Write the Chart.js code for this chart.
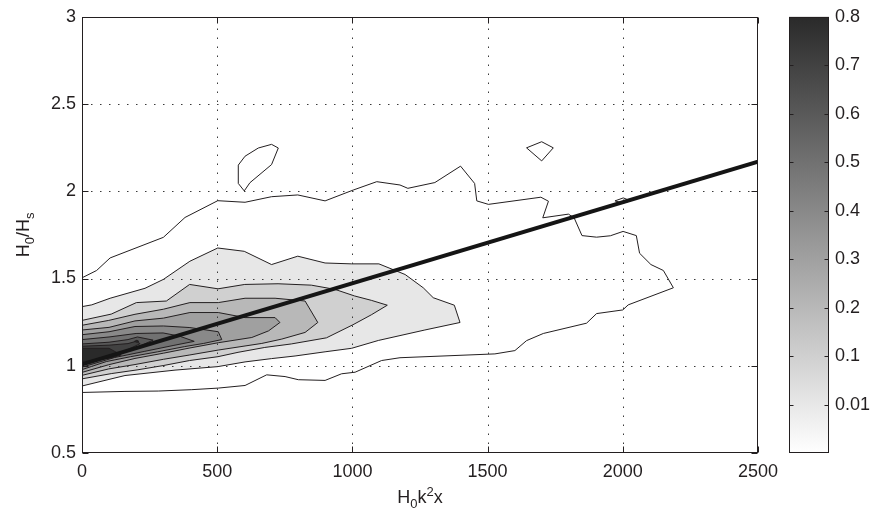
<!DOCTYPE html>
<html>
<head>
<meta charset="utf-8">
<script src="https://cdn.jsdelivr.net/npm/chart.js@4.4.1/dist/chart.umd.min.js"></script>
<style>
  html, body { margin: 0; padding: 0; background: #fff; }
  #wrap { position: relative; width: 873px; height: 520px; }
  #main { position: absolute; left: 0; top: 0; }
  #cbar { position: absolute; left: 770px; top: 0; }
</style>
</head>
<body>
<div id="wrap">
  <canvas id="main" width="873" height="520"></canvas>
  <canvas id="cbar" width="103" height="520"></canvas>
</div>
<script>
'use strict';

// density levels, lowest first (the lowest one has no label on the colour bar)
var levelLabels = ['', '0.01', '0.1', '0.2', '0.3', '0.4', '0.5', '0.6', '0.7', '0.8'];

var xTicks = [0, 500, 1000, 1500, 2000, 2500];
var yTicks = [0.5, 1, 1.5, 2, 2.5, 3];

// contour outlines as [H0k^2x, H0/Hs] pairs
var outerMain = [[0,1.504],[54,1.546],[104,1.618],[301,1.736],[381,1.850],[502,1.946],[603,1.937],[701,1.969],
  [798,1.979],[899,1.945],[1003,2.007],[1090,2.055],[1176,2.036],[1205,2.017],[1305,2.050],[1400,2.144],
  [1452,2.045],[1460,1.945],[1503,1.925],[1697,1.966],[1725,1.943],[1704,1.848],[1799,1.869],[1820,1.848],
  [1849,1.746],[1903,1.737],[1954,1.745],[2001,1.770],[2050,1.746],[2062,1.645],[2104,1.580],[2150,1.546],
  [2187,1.447],[2020,1.349],[2000,1.320],[1903,1.299],[1866,1.244],[1706,1.185],[1644,1.144],[1601,1.087],
  [1527,1.068],[1176,1.046],[1108,1.030],[1010,0.963],[960,0.954],[899,0.916],[800,0.920],[751,0.938],
  [683,0.948],[603,0.887],[504,0.872],[406,0.863],[282,0.855],[159,0.853],[0,0.847]];
var outerIslandA = [[600,2.002],[578,2.045],[578,2.150],[603,2.201],[652,2.248],[701,2.269],[726,2.248],[701,2.153],[621,2.049]];
var outerIslandB = [[1644,2.249],[1700,2.284],[1743,2.249],[1700,2.174]];
var outerIslandC = [[1971,1.945],[2002,1.962],[2029,1.945],[2000,1.932]];

var lvl001 = [[0,1.339],[36,1.349],[104,1.387],[233,1.444],[301,1.495],[399,1.599],[502,1.675],[600,1.656],
  [701,1.580],[798,1.628],[899,1.589],[997,1.584],[1098,1.584],[1195,1.523],[1262,1.447],[1299,1.390],
  [1377,1.347],[1398,1.248],[1268,1.205],[1096,1.145],[997,1.100],[899,1.080],[788,1.056],[701,1.041],
  [603,1.022],[502,0.995],[344,0.975],[159,0.944],[0,0.884]];
var lvl01 = [[0,1.260],[108,1.296],[201,1.362],[312,1.371],[398,1.466],[503,1.441],[602,1.466],[725,1.470],
  [848,1.462],[935,1.438],[1008,1.400],[1070,1.375],[1129,1.347],[1070,1.292],[1002,1.235],[904,1.160],
  [774,1.125],[676,1.105],[577,1.077],[503,1.052],[398,1.030],[300,1.001],[207,0.977],[108,0.955],[0,0.925]];
var lvl02 = [[0,1.232],[99,1.260],[196,1.295],[301,1.324],[399,1.362],[504,1.362],[603,1.387],[714,1.387],
  [825,1.371],[872,1.248],[825,1.191],[739,1.153],[665,1.128],[504,1.090],[399,1.062],[301,1.037],
  [196,1.007],[99,0.982],[0,0.945]];
var lvl03 = [[0,1.205],[100,1.220],[196,1.257],[301,1.273],[399,1.305],[504,1.305],[603,1.276],[714,1.276],
  [732,1.248],[690,1.200],[628,1.162],[504,1.132],[399,1.102],[301,1.072],[196,1.042],[99,1.006],[0,0.962]];
var lvl04 = [[0,1.178],[100,1.195],[196,1.225],[301,1.228],[399,1.219],[504,1.195],[517,1.150],[450,1.128],
  [380,1.110],[280,1.080],[180,1.052],[90,1.024],[0,0.978]];
var lvl05 = [[0,1.150],[100,1.165],[200,1.185],[300,1.188],[360,1.170],[415,1.140],[340,1.117],[230,1.082],
  [120,1.047],[0,0.992]];
var lvl06 = [[0,1.125],[100,1.135],[170,1.150],[205,1.165],[263,1.147],[220,1.117],[160,1.082],[80,1.047],[0,1.004]];
var lvl07 = [[0,1.112],[100,1.118],[170,1.127],[200,1.140],[215,1.127],[175,1.097],[125,1.062],[60,1.037],[0,1.014]];
var lvl08 = [[0,1.100],[100,1.100],[145,1.062],[110,1.045],[50,1.032],[0,1.024]];
var lvl08Dot = [[194,1.140],[203,1.146],[210,1.140],[201,1.135]];

// least-squares line
var fitX = [0, 2500];
var fitY = [1.008, 2.170];

var contours = [
  { level: 0, pts: outerMain }, { level: 0, pts: outerIslandA },
  { level: 0, pts: outerIslandB }, { level: 0, pts: outerIslandC },
  { level: 1, pts: lvl001 }, { level: 2, pts: lvl01 }, { level: 3, pts: lvl02 },
  { level: 4, pts: lvl03 }, { level: 5, pts: lvl04 }, { level: 6, pts: lvl05 },
  { level: 7, pts: lvl06 }, { level: 8, pts: lvl07 }, { level: 9, pts: lvl08 },
  { level: 9, pts: lvl08Dot }
];

var ink = '#231f20';
var fontFamily = '"Liberation Sans", Arial, Helvetica, sans-serif';

function levelGrey(k) {
  var g = Math.round(255 - k * (255 - 42) / 9);
  return 'rgb(' + g + ',' + g + ',' + g + ')';
}

var datasets = contours.map(function (c) {
  var pts = c.pts.concat([c.pts[0]]);
  return {
    data: pts.map(function (p) { return { x: p[0], y: p[1] }; }),
    borderColor: ink,
    borderWidth: 1,
    backgroundColor: levelGrey(c.level),
    fill: 'shape',
    pointRadius: 0,
    tension: 0,
    order: 20 - c.level
  };
});
datasets.push({
  data: fitX.map(function (x, i) { return { x: x, y: fitY[i] }; }),
  borderColor: '#151515',
  borderWidth: 4,
  fill: false,
  pointRadius: 0,
  tension: 0,
  order: 0
});
var fitIndex = datasets.length - 1;

// text with sub/superscripts, centred on (0,0) of the current transform
function drawParts(ctx, parts) {
  var total = 0;
  parts.forEach(function (p) {
    ctx.font = p.size + 'px ' + fontFamily;
    p.w = ctx.measureText(p.t).width;
    total += p.w;
  });
  var x = -total / 2;
  ctx.fillStyle = ink;
  ctx.textAlign = 'left';
  ctx.textBaseline = 'alphabetic';
  parts.forEach(function (p) {
    ctx.font = p.size + 'px ' + fontFamily;
    ctx.fillText(p.t, x, p.dy);
    x += p.w;
  });
}

function drawGrid(chart) {
  var ctx = chart.ctx, a = chart.chartArea, xs = chart.scales.x, ys = chart.scales.y;
  ctx.save();
  ctx.strokeStyle = '#3a3a3a';
  ctx.lineWidth = 1;
  ctx.setLineDash([1.5, 7.5]);
  xTicks.forEach(function (v) {
    if (v <= xs.min || v >= xs.max) return;
    var px = Math.round(xs.getPixelForValue(v)) + 0.5;
    ctx.beginPath(); ctx.moveTo(px, a.bottom); ctx.lineTo(px, a.top); ctx.stroke();
  });
  yTicks.forEach(function (v) {
    if (v <= ys.min || v >= ys.max) return;
    var py = Math.round(ys.getPixelForValue(v)) + 0.5;
    ctx.beginPath(); ctx.moveTo(a.left, py); ctx.lineTo(a.right, py); ctx.stroke();
  });
  ctx.restore();
}

var mainDeco = {
  id: 'mainDeco',
  beforeDatasetDraw: function (chart, args) {
    if (args.index === fitIndex) drawGrid(chart);
  },
  afterDraw: function (chart) {
    var ctx = chart.ctx, a = chart.chartArea, xs = chart.scales.x, ys = chart.scales.y;
    var L = Math.round(a.left) + 0.5, R = Math.round(a.right) - 0.5;
    var T = Math.round(a.top) + 0.5, B = Math.round(a.bottom) - 0.5;
    ctx.save();
    ctx.strokeStyle = ink;
    ctx.lineWidth = 1;
    ctx.strokeRect(L, T, R - L, B - T);
    ctx.beginPath();
    xTicks.forEach(function (v) {
      var px = Math.round(xs.getPixelForValue(v)) + 0.5;
      ctx.moveTo(px, B); ctx.lineTo(px, B - 6);
      ctx.moveTo(px, T); ctx.lineTo(px, T + 6);
    });
    yTicks.forEach(function (v) {
      var py = Math.round(ys.getPixelForValue(v)) + 0.5;
      ctx.moveTo(L, py); ctx.lineTo(L + 6, py);
      ctx.moveTo(R, py); ctx.lineTo(R - 6, py);
    });
    ctx.stroke();

    // axis titles
    ctx.save();
    ctx.translate((a.left + a.right) / 2, 503);
    drawParts(ctx, [
      { t: 'H', size: 18, dy: 0 }, { t: '0', size: 13, dy: 5 },
      { t: 'k', size: 18, dy: 0 }, { t: '2', size: 13, dy: -7 },
      { t: 'x', size: 18, dy: 0 }
    ]);
    ctx.restore();
    ctx.save();
    ctx.translate(29, (a.top + a.bottom) / 2);
    ctx.rotate(-Math.PI / 2);
    drawParts(ctx, [
      { t: 'H', size: 18, dy: 0 }, { t: '0', size: 13, dy: 5 },
      { t: '/H', size: 18, dy: 0 }, { t: 's', size: 13, dy: 5 }
    ]);
    ctx.restore();
    ctx.restore();
  }
};

new Chart(document.getElementById('main'), {
  type: 'line',
  data: { datasets: datasets },
  plugins: [mainDeco],
  options: {
    responsive: false,
    animation: false,
    events: [],
    layout: { padding: { left: 0, right: 115, top: 14, bottom: 0 } },
    plugins: { legend: { display: false }, tooltip: { enabled: false } },
    scales: {
      x: {
        type: 'linear', min: 0, max: 2500,
        afterBuildTicks: function (s) { s.ticks = xTicks.map(function (v) { return { value: v }; }); },
        afterFit: function (s) { s.height = 67; },
        grid: { display: false, drawTicks: false },
        border: { display: false },
        ticks: {
          color: ink, padding: 8, maxRotation: 0,
          font: { family: fontFamily, size: 18 },
          callback: function (v) { return String(v); }
        }
      },
      y: {
        type: 'linear', min: 0.5, max: 3,
        afterBuildTicks: function (s) { s.ticks = yTicks.map(function (v) { return { value: v }; }); },
        afterFit: function (s) { s.width = 82; },
        grid: { display: false, drawTicks: false },
        border: { display: false },
        ticks: {
          color: ink, padding: 6,
          font: { family: fontFamily, size: 18 },
          callback: function (v) { return String(v); }
        }
      }
    }
  }
});

// colour bar: one bar spanning all levels, shaded with the grey map
var cbarDeco = {
  id: 'cbarDeco',
  afterDraw: function (chart) {
    var ctx = chart.ctx, a = chart.chartArea, ys = chart.scales.y;
    var L = Math.round(a.left) + 0.5, R = Math.round(a.right) - 0.5;
    var T = Math.round(a.top) + 0.5, B = Math.round(a.bottom) - 0.5;
    ctx.save();
    ctx.strokeStyle = ink;
    ctx.lineWidth = 1;
    ctx.strokeRect(L, T, R - L, B - T);
    ctx.beginPath();
    for (var k = 1; k < levelLabels.length - 1; k++) {
      var py = Math.round(ys.getPixelForValue(k)) + 0.5;
      ctx.moveTo(L, py); ctx.lineTo(L + 4, py);
      ctx.moveTo(R, py); ctx.lineTo(R - 4, py);
    }
    ctx.stroke();
    ctx.restore();
  }
};

new Chart(document.getElementById('cbar'), {
  type: 'bar',
  data: {
    labels: ['level'],
    datasets: [{
      data: [levelLabels.length - 1],
      barPercentage: 1,
      categoryPercentage: 1,
      borderWidth: 0,
      backgroundColor: function (c) {
        var area = c.chart.chartArea;
        if (!area) return levelGrey(4);
        var g = c.chart.ctx.createLinearGradient(0, area.bottom, 0, area.top);
        g.addColorStop(0, levelGrey(0));
        g.addColorStop(1, levelGrey(levelLabels.length - 1));
        return g;
      }
    }]
  },
  plugins: [cbarDeco],
  options: {
    responsive: false,
    animation: false,
    events: [],
    layout: { padding: { left: 19, right: 0, top: 14, bottom: 67 } },
    plugins: { legend: { display: false }, tooltip: { enabled: false } },
    scales: {
      x: { display: false },
      y: {
        position: 'right',
        min: 0, max: levelLabels.length - 1,
        afterBuildTicks: function (s) {
          s.ticks = levelLabels.map(function (l, i) { return { value: i }; });
        },
        afterFit: function (s) { s.width = 44; },
        grid: { display: false, drawTicks: false },
        border: { display: false },
        ticks: {
          color: ink, padding: 6,
          font: { family: fontFamily, size: 18 },
          callback: function (v) { return levelLabels[v]; }
        }
      }
    }
  }
});
</script>
</body>
</html>
